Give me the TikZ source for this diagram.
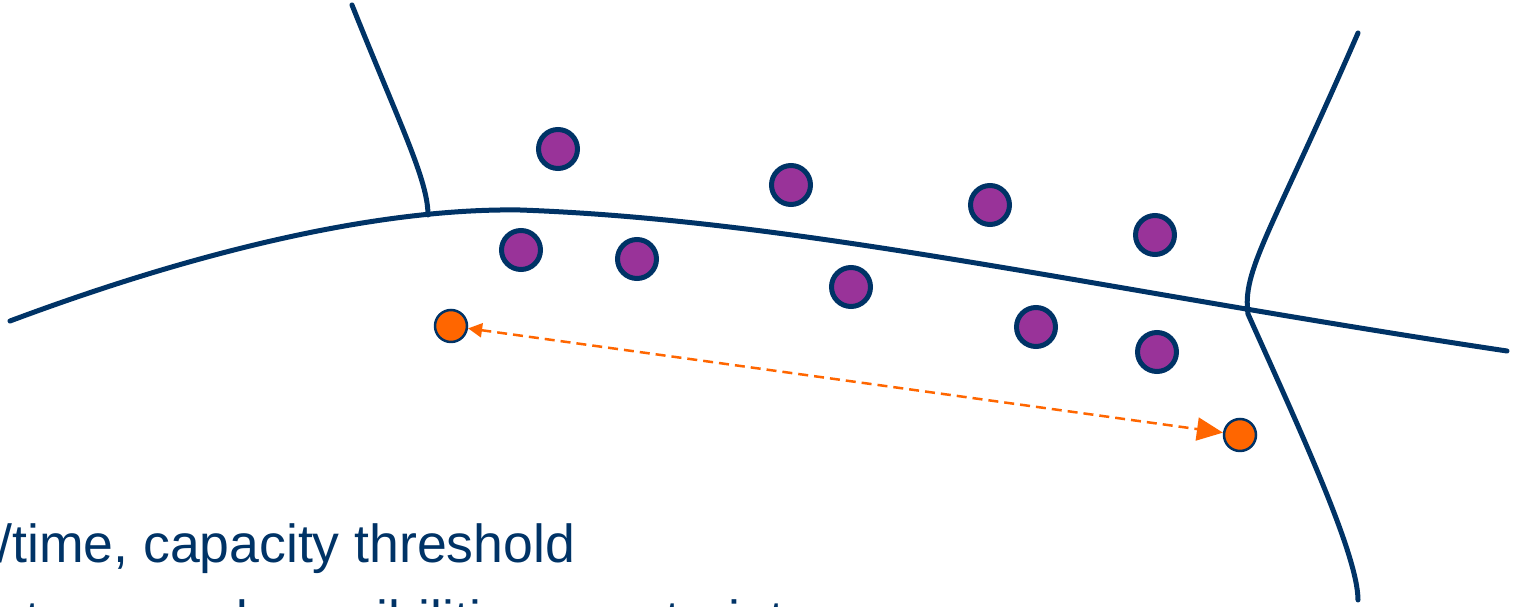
\documentclass[tikz,border=0pt]{standalone}
\usepackage{fontspec}
\setmainfont{Liberation Sans}
\usepackage{tikz}
\usetikzlibrary{arrows.meta}
\definecolor{navy}{RGB}{0,51,102}
\definecolor{plum}{RGB}{153,51,153}
\definecolor{amber}{RGB}{255,102,0}

\begin{document}
\begin{tikzpicture}[x=0.02cm, y=-0.02cm,
  zone/.style={draw=navy, line width=0.1cm, line cap=round},
  client/.style={circle, draw=navy, line width=0.1cm, fill=plum, minimum size=0.78cm, inner sep=0pt},
  depot/.style={circle, draw=navy, line width=0.05cm, fill=amber, minimum size=0.64cm, inner sep=0pt},
  link/.style={draw=amber, line width=0.05cm, dash pattern=on 0.2cm off 0.12cm,
    {Triangle[length=0.28cm,width=0.28cm]}-{Triangle[length=0.52cm,width=0.46cm]}},
  lbl/.style={text=navy, font=\fontsize{30.5}{43}\selectfont, anchor=base west, inner sep=0pt}]
\useasboundingbox (0,0) rectangle (1516,607);

% region borders
\draw[zone] (10,321) .. controls (200,250) and (380,208) .. (520,210)
  .. controls (800,220) and (1100,290) .. (1507,351);
\draw[zone] (352,5) .. controls (400,125) and (428,180) .. (428,215);
\draw[zone] (1358,33) .. controls (1270,235) and (1242,270) .. (1248,314)
  .. controls (1300,430) and (1358,555) .. (1358,600);

% customers
\node[client] (c1) at (558,149) {};
\node[client] (c2) at (791,185) {};
\node[client] (c3) at (990,205) {};
\node[client] (c4) at (1155,235) {};
\node[client] (c5) at (521,250) {};
\node[client] (c6) at (637,259) {};
\node[client] (c7) at (851,287) {};
\node[client] (c8) at (1036,327) {};
\node[client] (c9) at (1157,352) {};

% depots and link
\node[depot] (d1) at (451,326) {};
\node[depot] (d2) at (1240,435) {};
\draw[link] (d1) -- (d2);

% text
\node[lbl] (t1) at (-3,563) {/time, capacity threshold};
\node[lbl] (t2) at (25,639) {tours and possibilities constraints};
\end{tikzpicture}
\end{document}
